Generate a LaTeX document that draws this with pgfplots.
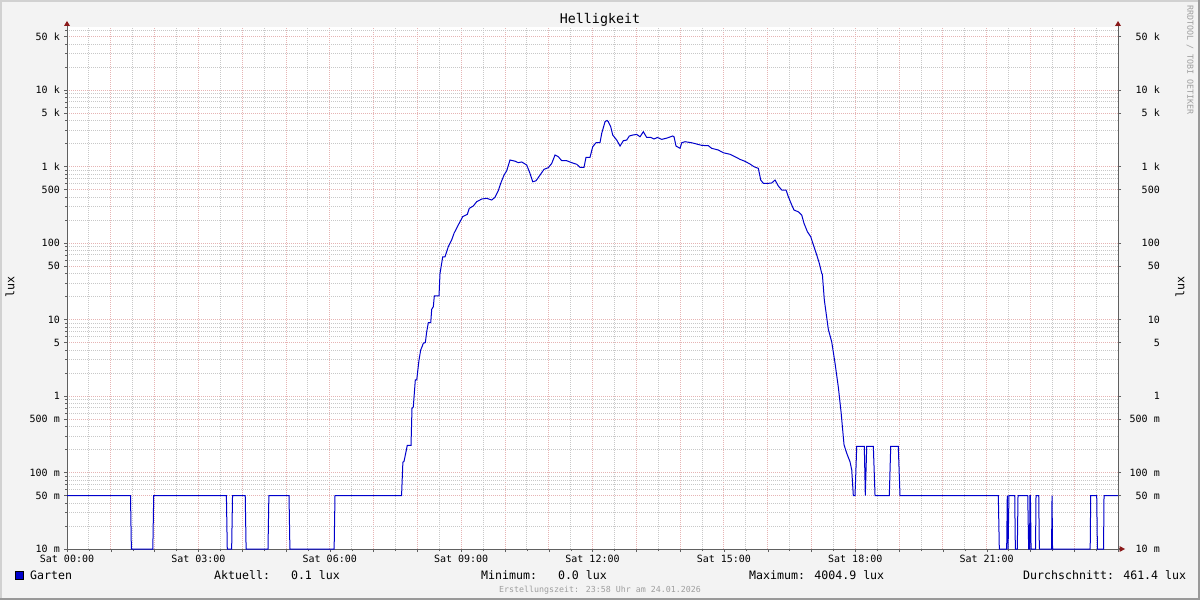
\documentclass[border=0pt]{standalone}
\usepackage{fontspec}
\setmainfont{DejaVu Sans Mono}
\usepackage{pgfplots}
\pgfplotsset{compat=1.18}
\definecolor{bg}{HTML}{F3F3F3}
\definecolor{majgrid}{HTML}{E6B4B4}
\definecolor{mingrid}{HTML}{C8C8C8}
\definecolor{axc}{HTML}{606060}
\definecolor{arr}{HTML}{8B1A1A}
\definecolor{lineblue}{HTML}{0000CC}
\newcommand\ft{\fontsize{10}{12}\selectfont}
\newcommand\fl{\fontsize{11.6}{14}\selectfont}
\pgfplotstableread{
h v
0 0.05
1.45 0.05
1.47 0.01
1.96 0.01
1.98 0.05
3.64 0.05
3.66 0.01
3.76 0.01
3.78 0.05
4.07 0.05
4.09 0.01
4.59 0.01
4.61 0.05
5.07 0.05
5.09 0.01
6.10 0.01
6.12 0.05
7.64 0.05
7.67 0.136
7.696 0.14
7.734 0.178
7.771 0.227
7.856 0.227
7.878 0.69
7.908 0.72
7.954 1.62
7.986 1.62
8.038 2.95
8.077 4.0
8.107 4.4
8.137 4.9
8.183 5.0
8.214 6.9
8.251 9.1
8.306 9.1
8.328 13.6
8.365 14.7
8.388 20.3
8.495 20.3
8.518 40
8.58 66
8.632 66
8.707 89.5
8.785 110
8.838 134
8.913 163
8.975 190
9.036 221
9.141 237
9.187 284
9.278 305
9.356 347
9.47 376
9.584 384
9.698 365
9.774 396
9.849 483
9.904 603
9.98 774
10.041 881
10.116 1217
10.231 1175
10.306 1123
10.384 1147
10.498 1047
10.573 813
10.635 632
10.71 651
10.802 774
10.893 919
10.991 966
11.069 1098
11.144 1413
11.22 1343
11.297 1191
11.411 1191
11.525 1123
11.64 1070
11.715 977
11.806 977
11.852 1318
11.943 1318
12.005 1815
12.08 2047
12.172 2060
12.211 2716
12.286 3852
12.332 4005
12.361 3852
12.416 3310
12.462 2580
12.553 2219
12.629 1853
12.704 2174
12.781 2219
12.841 2506
12.918 2580
13.01 2630
13.085 2450
13.161 2850
13.238 2400
13.33 2405
13.405 2290
13.481 2400
13.581 2265
13.695 2350
13.832 2506
13.862 2450
13.907 1853
13.999 1730
14.038 2045
14.113 2112
14.266 2045
14.38 1968
14.494 1891
14.645 1870
14.723 1730
14.873 1644
14.988 1514
15.141 1445
15.255 1343
15.369 1241
15.483 1169
15.597 1078
15.689 994
15.787 946
15.842 666
15.901 603
16.016 603
16.093 610
16.169 666
16.244 556
16.322 493
16.42 493
16.472 403
16.55 314
16.602 270
16.7 256
16.778 232
16.83 181
16.906 141
16.983 121
17.059 89
17.12 70
17.18 54
17.235 40
17.249 39
17.294 18
17.386 7.4
17.463 5.1
17.539 2.67
17.614 1.3
17.676 0.62
17.744 0.23
17.806 0.178
17.881 0.138
17.92 0.108
17.956 0.05
17.995 0.05
18.034 0.22
18.207 0.22
18.23 0.05
18.262 0.22
18.413 0.22
18.452 0.05
18.778 0.05
18.81 0.22
18.983 0.22
19.022 0.05
21.267 0.05
21.29 0.01
21.458 0.01
21.472 0.05
21.49 0.01
21.51 0.05
21.642 0.05
21.656 0.01
21.701 0.01
21.717 0.05
21.939 0.05
21.96 0.01
21.98 0.01
21.99 0.05
22.0 0.05
22.015 0.01
22.117 0.01
22.128 0.05
22.19 0.05
22.204 0.01
22.483 0.01
22.494 0.05
22.505 0.01
23.365 0.01
23.377 0.05
23.514 0.05
23.53 0.01
23.67 0.01
23.681 0.05
24 0.05
}\datatable
\begin{document}
\begin{tikzpicture}[x=1pt,y=1pt]
\useasboundingbox (0,0) rectangle (1200,600);
\fill[bg] (0,0) rectangle (1200,600);
\fill[black!18] (0,598) rectangle (1200,600);
\fill[black!18] (0,0) rectangle (2,600);
\fill[black!40] (0,0) rectangle (1200,2);
\fill[black!40] (1198,0) rectangle (1200,600);
\fill[white] (67,51) rectangle (1118,573);
\begin{axis}[
  at={(67pt,51pt)}, anchor=south west, scale only axis,
  width=1051pt, height=522pt,
  xmin=0, xmax=24, ymode=log, ymin=0.01, ymax=66700,
  axis x line*=bottom, axis y line*=left,
  axis line style={color=axc, line width=1pt},
  tick align=outside, major tick length=3pt, minor tick length=2pt,
  tick style={color=axc},
  xtick={0,1,...,24},
  xticklabels={Sat 00:00,,,Sat 03:00,,,Sat 06:00,,,Sat 09:00,,,Sat 12:00,,,Sat 15:00,,,Sat 18:00,,,Sat 21:00,,,},
  minor xtick={0.5,1.5,...,23.5},
  ytick={0.01,0.05,0.1,0.5,1,5,10,50,100,500,1000,5000,10000,50000},
  yticklabels={10 m,50 m,100 m,500 m,1,5,10,50,100,500,1 k,5 k,10 k,50 k},
  minor ytick={0.02,0.03,0.04,0.06,0.07,0.08,0.09,0.2,0.3,0.4,0.6,0.7,0.8,0.9,2,3,4,6,7,8,9,20,30,40,60,70,80,90,200,300,400,600,700,800,900,2000,3000,4000,6000,7000,8000,9000,20000,30000,40000,60000},
  grid=both,
  major grid style={color=majgrid, line width=0.8pt, dash pattern=on 1pt off 1pt},
  minor grid style={color=mingrid, line width=0.8pt, dash pattern=on 1pt off 1pt},
  xticklabel style={font=\ft, anchor=north, inner sep=0pt, yshift=-3pt},
  yticklabel style={font=\ft, anchor=east, inner sep=0pt, xshift=-4pt},
  clip=false,
]
\addplot[lineblue, line width=1pt, no marks] table[x=h, y=v] {\datatable};
\end{axis}
\begin{axis}[
  at={(67pt,51pt)}, anchor=south west, scale only axis,
  width=1051pt, height=522pt,
  xmin=0, xmax=24, ymode=log, ymin=0.01, ymax=66700,
  axis x line=none, axis y line*=right,
  axis line style={color=axc, line width=1pt},
  tick align=outside, major tick length=3pt,
  tick style={color=axc},
  xtick=\empty,
  ytick={0.01,0.05,0.1,0.5,1,5,10,50,100,500,1000,5000,10000,50000},
  yticklabels={10 m,50 m,100 m,500 m,1,5,10,50,100,500,1 k,5 k,10 k,50 k},
  minor ytick={},
  yticklabel style={font=\ft, anchor=east, inner sep=0pt, xshift=39pt},
]
\addplot[draw=none] coordinates {(1,1)};
\end{axis}
% axis extensions and arrows
\draw[axc, line width=1pt] (67,573) -- (67,574.5);
\draw[axc, line width=1pt] (1118,573) -- (1118,574.5);
\draw[axc, line width=1pt] (1118,51) -- (1120,51);
\fill[arr] (64,574) -- (70,574) -- (67,579) -- cycle;
\fill[arr] (1115,574) -- (1121,574) -- (1118,579) -- cycle;
\fill[arr] (1119.5,54) -- (1119.5,48) -- (1125,51) -- cycle;
% titles
\node[anchor=base, font=\fontsize{13.3}{16}\selectfont] at (600,576) {Helligkeit};
\node[rotate=90, font=\fl] at (10,313) {lux};
\node[rotate=90, font=\fl] at (1180,313) {lux};
\node[rotate=-90, font=\fontsize{8.3}{10}\selectfont, text=black!38] at (1190,540) {RRDTOOL / TOBI OETIKER};
% legend line
\filldraw[fill=lineblue, draw=black, line width=0.8pt] (15.5,20.5) rectangle (23.5,28.5);
\node[anchor=base west, inner sep=0pt, font=\fl] at (30,20.5) {Garten};
\node[anchor=base west, inner sep=0pt, font=\fl] at (214,20.5) {Aktuell:\ \ \ 0.1 lux};
\node[anchor=base west, inner sep=0pt, font=\fl] at (481,20.5) {Minimum:\ \ \ 0.0 lux};
\node[anchor=base west, inner sep=0pt, font=\fl] at (749,20.5) {Maximum: 4004.9 lux};
\node[anchor=base west, inner sep=0pt, font=\fl] at (1023,20.5) {Durchschnitt: 461.4 lux};
\node[anchor=base, inner sep=0pt, font=\fontsize{8.3}{10}\selectfont, text=black!38] at (600,8) {Erstellungszeit: 23:58 Uhr am 24.01.2026};
\end{tikzpicture}
\end{document}
